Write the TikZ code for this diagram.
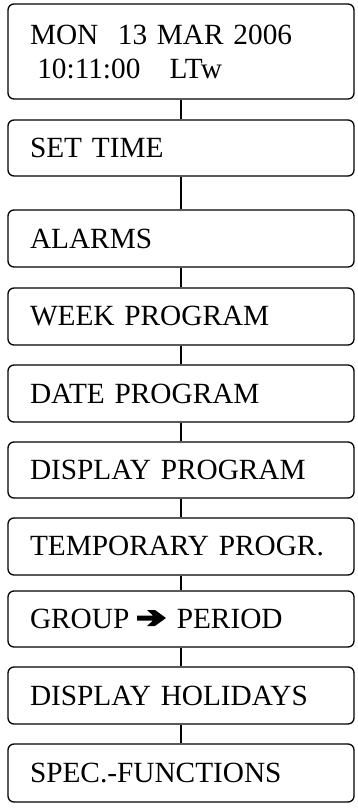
\documentclass[tikz,border=0pt]{standalone}
\usepackage{fontspec}
\setmainfont{Liberation Serif}
\tikzset{
  menubox/.style={draw, line width=1.3pt, rounded corners=6pt, minimum width=346pt,
    text width=302pt, inner xsep=22pt, inner ysep=0pt, align=left,
    font=\fontsize{29.3}{34}\selectfont},
  link/.style={line width=1.3pt}
}
\begin{document}
\begin{tikzpicture}[x=1pt,y=1pt]
\useasboundingbox (0,0) rectangle (358,-810);
\node[menubox, minimum height=95pt] (b1) at (181,-51.5) {MON\ \ 13 MAR 2006\\\hspace*{0.25em}10:11:00\ \ \ LTw};
\node[menubox, minimum height=56pt] (b2) at (181,-148) {SET TIME};
\node[menubox, minimum height=57pt] (b3) at (181,-238.5) {ALARMS};
\node[menubox, minimum height=57pt] (b4) at (181,-316.5) {WEEK PROGRAM};
\node[menubox, minimum height=57pt] (b5) at (181,-393.5) {DATE PROGRAM};
\node[menubox, minimum height=56pt] (b6) at (181,-470) {DISPLAY PROGRAM};
\node[menubox, minimum height=57pt] (b7) at (181,-546.5) {TEMPORARY PROGR.};
\node[menubox, minimum height=56pt] (b8) at (181,-619) {GROUP\hspace{47.5pt}PERIOD};
\node[menubox, minimum height=57pt] (b9) at (181,-695.5) {DISPLAY HOLIDAYS};
\node[menubox, minimum height=58pt] (b10) at (181,-773) {SPEC.-FUNCTIONS};
\fill[shift={(b8.center)}] (-44,3.5) -- (-28,3.5) -- (-34,9) -- (-26,9) -- (-15,1)
  -- (-26,-7) -- (-34,-7) -- (-28,-1.5) -- (-44,-1.5) -- cycle;
\foreach \a/\b in {b1/b2,b2/b3,b3/b4,b4/b5,b5/b6,b6/b7,b7/b8,b8/b9,b9/b10}
  \draw[link] (\a) -- (\b);
\end{tikzpicture}
\end{document}
